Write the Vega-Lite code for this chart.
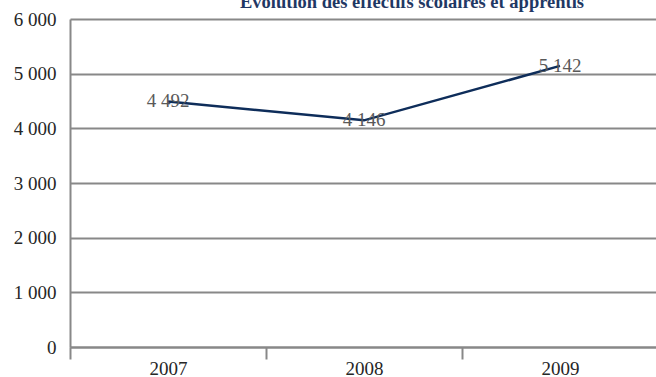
{
  "$schema": "https://vega.github.io/schema/vega-lite/v6.json",
  "width": 588,
  "height": 328,
  "autosize": "none",
  "padding": {"left": 70, "top": 19, "right": 0, "bottom": 30},
  "title": {
    "text": "Évolution des effectifs scolaires et apprentis",
    "font": "Times New Roman",
    "fontSize": 18.5,
    "fontWeight": "bold",
    "color": "#1f3864",
    "anchor": "middle",
    "dx": 48,
    "baseline": "alphabetic",
    "offset": -16
  },
  "data": {
    "values": [
      {"annee": "2007", "effectif": 4492},
      {"annee": "2008", "effectif": 4146},
      {"annee": "2009", "effectif": 5142}
    ]
  },
  "encoding": {
    "x": {
      "field": "annee",
      "type": "ordinal",
      "bandPosition": 0.5,
      "scale": {"type": "band", "paddingInner": 0, "paddingOuter": 0},
      "axis": {
        "title": null,
        "labelAngle": 0,
        "tickBand": "extent",
        "tickSize": 12,
        "tickWidth": 2,
        "tickColor": "#888888",
        "domainColor": "#888888",
        "domainWidth": 2,
        "grid": false,
        "labelFont": "Times New Roman",
        "labelFontSize": 19,
        "labelColor": "#262626",
        "labelPadding": 0
      }
    },
    "y": {
      "field": "effectif",
      "type": "quantitative",
      "scale": {"domain": [0, 6000], "nice": false},
      "axis": {
        "title": null,
        "values": [0, 1000, 2000, 3000, 4000, 5000, 6000],
        "format": ",d",
        "ticks": false,
        "domain": true,
        "domainColor": "#888888",
        "domainWidth": 2,
        "grid": true,
        "gridColor": "#888888",
        "gridWidth": 2,
        "labelFont": "Times New Roman",
        "labelFontSize": 19,
        "labelColor": "#262626",
        "labelPadding": 14
      }
    }
  },
  "layer": [
    {"mark": {"type": "line", "color": "#0e2d5a", "strokeWidth": 2.5}},
    {
      "mark": {"type": "text", "font": "Times New Roman", "fontSize": 19, "color": "#595959"},
      "encoding": {"text": {"field": "effectif", "type": "quantitative", "format": ",d"}}
    }
  ],
  "config": {
    "view": {"stroke": null},
    "locale": {"number": {"decimal": ",", "thousands": " ", "grouping": [3], "currency": ["", " €"]}}
  }
}
